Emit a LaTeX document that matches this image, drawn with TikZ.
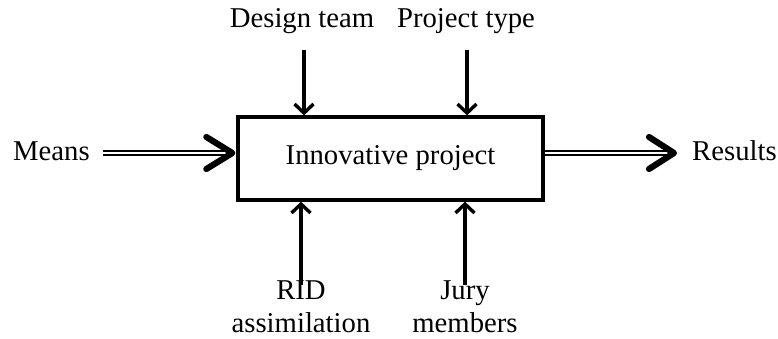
\documentclass[tikz,border=0pt]{standalone}
\usepackage{fontspec}
\setmainfont{Liberation Serif}
\usetikzlibrary{arrows.meta,calc}
\begin{document}
\begin{tikzpicture}[x=1pt,y=-1pt,
  lbl/.style={inner sep=0pt, font=\fontsize{28.7}{33}\selectfont, align=center},
  procbox/.style={draw, line width=3.3pt, minimum width=305pt, minimum height=83pt, inner sep=0pt, font=\fontsize{28.7}{33}\selectfont},
  thinarrow/.style={line width=3.4pt, -{Straight Barb[length=9pt,width=19pt]}},
  dbl/.style={double, double distance=2.2pt, line width=2.1pt},
  chev/.style={line width=6.2pt, line cap=round, line join=round}
]
\useasboundingbox (0,0) rectangle (778,338);
\node[procbox] (box) at (390.5,158.5) {Innovative project};
\node[lbl, anchor=base west] (means) at (13,160) {Means};
\node[lbl, anchor=base west] (res) at (692,160) {Results};
\node[lbl, anchor=base] (dt) at (302,27) {Design team};
\node[lbl, anchor=base] (pt) at (466,27) {Project type};
\node[lbl, anchor=north] (rid) at (301,280) {RID\\assimilation};
\node[lbl, anchor=north] (jury) at (465,280) {Jury\\members};
% left double arrow
\path (box.west) ++(0,-5.5) coordinate (inL);
\draw[dbl, shorten <=13pt, shorten >=4pt] (means.east |- inL) -- (inL);
\draw[chev] ($(inL)+(-30,-16)$) -- ($(inL)+(-4,0)$) -- ($(inL)+(-30,16)$);
% right double arrow
\path (box.east) ++(0,-5.5) coordinate (outR);
\path (res.west |- outR) ++(-15,0) coordinate (tipR);
\draw[dbl, shorten >=3pt] (outR) -- (tipR);
\draw[chev] ($(tipR)+(-28,-16)$) -- ($(tipR)+(-3,0)$) -- ($(tipR)+(-28,16)$);
% control arrows
\draw[thinarrow] ([xshift=2pt,yshift=-23pt]dt.base) -- ([xshift=2pt]dt.base |- box.north);
\draw[thinarrow] ([xshift=1pt,yshift=-23pt]pt.base) -- ([xshift=1pt]pt.base |- box.north);
% mechanism arrows
\draw[thinarrow] ([yshift=-5pt]rid.north) -- (rid.north |- box.south);
\draw[thinarrow] ([yshift=-5pt]jury.north) -- (jury.north |- box.south);
\end{tikzpicture}
\end{document}
